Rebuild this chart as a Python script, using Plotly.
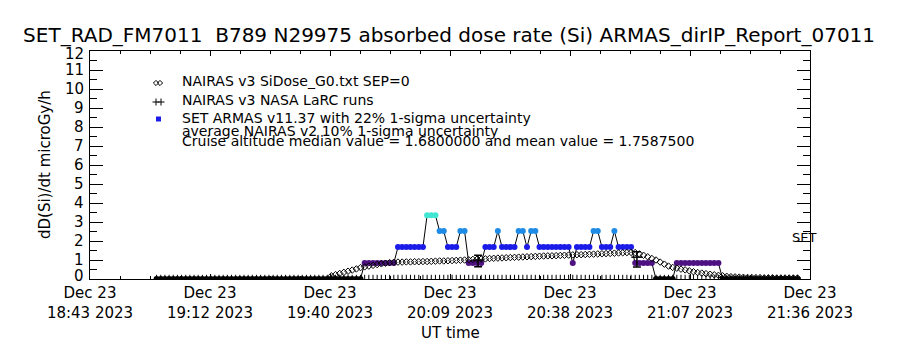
import plotly.graph_objects as go
import pandas as pd

# ---------------- data ----------------
title_text = "SET_RAD_FM7011  B789 N29975 absorbed dose rate (Si) ARMAS_dirIP_Report_07011"
x_start = "2023-12-23 18:43:00"
x_end = "2023-12-23 21:36:00"
x_tick_text = ["Dec 23<br>18:43 2023", "Dec 23<br>19:12 2023", "Dec 23<br>19:40 2023",
               "Dec 23<br>20:09 2023", "Dec 23<br>20:38 2023", "Dec 23<br>21:07 2023",
               "Dec 23<br>21:36 2023"]
y_tick_vals = [0, 1, 2, 3, 4, 5, 6, 7, 8, 9, 10, 11, 12]

# ARMAS measured dose rate, one sample per minute from 18:59 UT
armas_start = "2023-12-23 18:59:00"
armas_dose = [
    0, 0, 0, 0, 0, 0, 0, 0, 0, 0, 0, 0, 0, 0, 0, 0, 0, 0, 0, 0,
    0, 0, 0, 0, 0, 0, 0, 0, 0, 0, 0, 0, 0, 0, 0, 0, 0, 0, 0, 0,
    0, 0, 0, 0, 0, 0, 0, 0, 0, 0,
    0.84, 0.84, 0.84, 0.84, 0.84, 0.84, 0.84, 0.84,
    1.68, 1.68, 1.68, 1.68, 1.68, 1.68, 1.68,
    3.36, 3.36, 3.36,
    2.52, 2.52,
    1.68, 1.68, 1.68,
    2.52, 2.52,
    0.84, 0.84, 0.84, 0.84,
    1.68, 1.68, 1.68,
    2.52,
    1.68, 1.68, 1.68, 1.68,
    2.52, 2.52,
    1.68,
    2.52, 2.52,
    1.68, 1.68, 1.68, 1.68, 1.68, 1.68, 1.68, 1.68,
    0.84,
    1.68, 1.68, 1.68, 1.68,
    2.52, 2.52,
    1.68, 1.68, 1.68,
    2.52,
    1.68, 1.68, 1.68, 1.68,
    0.84, 0.84, 0.84, 0.84, 0.84,
    0, 0, 0, 0, 0,
    0.84, 0.84, 0.84, 0.84, 0.84, 0.84, 0.84, 0.84, 0.84, 0.84, 0.84,
    0, 0, 0, 0, 0, 0, 0, 0, 0, 0, 0, 0, 0, 0, 0, 0, 0, 0, 0,
]

# NAIRAS v3 SiDose model, one value per minute from 19:41 UT
sidose_start = "2023-12-23 19:41:00"
sidose_dose = [
    0.17, 0.23, 0.29, 0.35, 0.41, 0.47, 0.53, 0.60,
    0.64, 0.68, 0.72, 0.76, 0.80, 0.83, 0.86, 0.88,
    0.89, 0.89, 0.90, 0.90, 0.91, 0.91, 0.92, 0.92, 0.93, 0.94, 0.95,
    0.95, 0.96, 0.97, 0.98, 0.99, 1.00, 1.01, 1.03, 1.04, 1.05, 1.06, 1.08,
    1.09, 1.10, 1.11, 1.12, 1.13, 1.14, 1.15, 1.16, 1.17, 1.18, 1.19, 1.20,
    1.21, 1.22, 1.22, 1.23, 1.24, 1.25, 1.26, 1.27, 1.28, 1.28, 1.29, 1.30, 1.31, 1.32,
    1.33, 1.34, 1.35, 1.36, 1.37, 1.38, 1.39, 1.40, 1.39,
    1.32, 1.25, 1.17, 1.08, 1.00, 0.89, 0.78, 0.68, 0.61, 0.57, 0.52, 0.48, 0.43,
    0.38, 0.34, 0.31, 0.28, 0.25, 0.22, 0.19, 0.17, 0.14, 0.12, 0.11, 0.10, 0.09,
    0.08, 0.08, 0.07, 0.07, 0.06, 0.06, 0.06, 0.05, 0.05, 0.05, 0.05, 0.05, 0.05,
]

# NAIRAS NASA LaRC runs with uncertainty
larc_time = ["2023-12-23 20:16:15", "2023-12-23 20:54:25"]
larc_dose = [1.00, 1.15]
larc_err_plus = [0.25, 0.28]
larc_err_minus = [0.35, 0.52]

legend_lines = ["NAIRAS v3 SiDose_G0.txt SEP=0",
                "NAIRAS v3 NASA LaRC runs",
                "SET ARMAS v11.37 with 22% 1-sigma uncertainty",
                "average NAIRAS v2 10% 1-sigma uncertainty",
                "Cruise altitude median value = 1.6800000 and mean value = 1.7587500"]

# ---------------- styles ----------------
FONT = "DejaVu Sans"
level_colors = {0: "#000000", 0.84: "#4e1282", 1.68: "#1c1ce8",
                2.52: "#1e8ce6", 3.36: "#40e6d2"}

armas_time = pd.date_range(armas_start, periods=len(armas_dose), freq="1min")
sidose_time = pd.date_range(sidose_start, periods=len(sidose_dose), freq="1min")
armas_colors = [level_colors[v] for v in armas_dose]

fig = go.Figure()

# rug of sample marks along the zero line
fig.add_trace(go.Scatter(x=armas_time, y=[v * 0 for v in armas_dose], mode="markers",
                         marker=dict(symbol="line-ns", size=6, color="black",
                                     line=dict(width=1, color="black")),
                         cliponaxis=True, showlegend=False, hoverinfo="skip"))

# ARMAS measurements
fig.add_trace(go.Scatter(x=armas_time, y=armas_dose, mode="lines+markers",
                         line=dict(color="black", width=1),
                         marker=dict(symbol="circle", size=6, color=armas_colors,
                                     line=dict(width=0)),
                         cliponaxis=True, showlegend=False))

# NAIRAS SiDose model
fig.add_trace(go.Scatter(x=sidose_time, y=sidose_dose, mode="markers",
                         marker=dict(symbol="diamond-open", size=5, color="black",
                                     line=dict(width=1, color="black")),
                         cliponaxis=True, showlegend=False))

# LaRC runs with error bars
fig.add_trace(go.Scatter(x=pd.to_datetime(larc_time), y=larc_dose, mode="markers",
                         marker=dict(symbol="line-ew", size=8, color="black",
                                     line=dict(width=1.5, color="black")),
                         error_y=dict(type="data", symmetric=False, array=larc_err_plus,
                                      arrayminus=larc_err_minus, color="black",
                                      thickness=1.5, width=4),
                         showlegend=False))

# legend glyphs on an overlay pixel axis (plot-area pixels)
fig.add_trace(go.Scatter(x=[66, 70], y=[32, 32], xaxis="x2", yaxis="y2", mode="markers",
                         marker=dict(symbol="diamond-open", size=4, color="black",
                                     line=dict(width=1, color="black")),
                         showlegend=False, hoverinfo="skip"))
fig.add_trace(go.Scatter(x=[66, 71], y=[51, 51], xaxis="x2", yaxis="y2", mode="markers",
                         marker=dict(symbol="cross-thin-open", size=5, color="black",
                                     line=dict(width=1, color="black")),
                         showlegend=False, hoverinfo="skip"))
fig.add_trace(go.Scatter(x=[68.5], y=[68], xaxis="x2", yaxis="y2", mode="markers",
                         marker=dict(symbol="square", size=5, color="#1c1ce8"),
                         showlegend=False, hoverinfo="skip"))

legend_y = [30, 49, 67, 80, 90]
annotations = []
for txt, yy in zip(legend_lines, legend_y):
    annotations.append(dict(text=txt, x=90, y=yy, xref="x2", yref="y2", showarrow=False,
                            xanchor="left", yanchor="middle",
                            font=dict(family=FONT, size=14, color="black")))

# y tick labels (first and last nudged inward as in the reference)
for v in y_tick_vals:
    shift = 3 if v == y_tick_vals[0] else (-3 if v == y_tick_vals[-1] else 0)
    annotations.append(dict(text=str(v), x=-0.0056, y=v, xref="paper", yref="y",
                            showarrow=False, xanchor="right", yanchor="middle",
                            yshift=shift,
                            font=dict(family=FONT, size=15, color="black")))

annotations.append(dict(text="SET", x=700, y=186, xref="x2", yref="y2", showarrow=False,
                        xanchor="left", yanchor="middle",
                        font=dict(family=FONT, size=13, color="black")))
annotations.append(dict(text="dD(Si)/dt microGy/h", x=-0.0625, y=0.5, xref="paper",
                        yref="paper", showarrow=False, textangle=-90,
                        xanchor="center", yanchor="middle",
                        font=dict(family=FONT, size=15, color="black")))
annotations.append(dict(text="UT time", x=0.5, y=-0.237, xref="paper", yref="paper",
                        showarrow=False, xanchor="center", yanchor="middle",
                        font=dict(family=FONT, size=15, color="black")))

t0 = pd.Timestamp(x_start)
t1 = pd.Timestamp(x_end)
tick_vals = pd.date_range(t0, t1, periods=len(x_tick_text))
minor_vals = pd.date_range(t0, t1, periods=(len(x_tick_text) - 1) * 4 + 1)

fig.update_layout(
    width=900, height=350,
    margin=dict(l=90, r=90, t=51, b=71),
    paper_bgcolor="white", plot_bgcolor="white",
    font=dict(family=FONT, color="black"),
    title=dict(text=title_text, x=0.499, y=1 - 35 / 350, xanchor="center",
               yanchor="middle", xref="container", yref="container",
               font=dict(family=FONT, size=20, color="black")),
    xaxis=dict(type="date", range=[t0, t1], tickmode="array", tickvals=tick_vals,
               ticktext=x_tick_text, ticks="inside", ticklen=5, tickwidth=1,
               tickcolor="black", showline=True, linecolor="black", linewidth=1,
               mirror="ticks", showgrid=False, zeroline=False,
               tickfont=dict(family=FONT, size=15, color="black"),
               minor=dict(tickmode="array", tickvals=minor_vals, ticks="inside",
                          ticklen=3, tickcolor="black", showgrid=False)),
    yaxis=dict(range=[0, 12], tickmode="array", tickvals=y_tick_vals, ticks="inside",
               ticklen=13, tickwidth=1, tickcolor="black", showline=True,
               linecolor="black", linewidth=1, mirror="ticks", showgrid=False,
               zeroline=False, showticklabels=False,
               minor=dict(dtick=0.5, ticks="inside", ticklen=7, tickcolor="black",
                          showgrid=False)),
    xaxis2=dict(overlaying="x", range=[0, 720], visible=False, fixedrange=True),
    yaxis2=dict(overlaying="y", range=[228, 0], visible=False, fixedrange=True),
    annotations=annotations,
    showlegend=False,
)

fig.write_html("out.html")
